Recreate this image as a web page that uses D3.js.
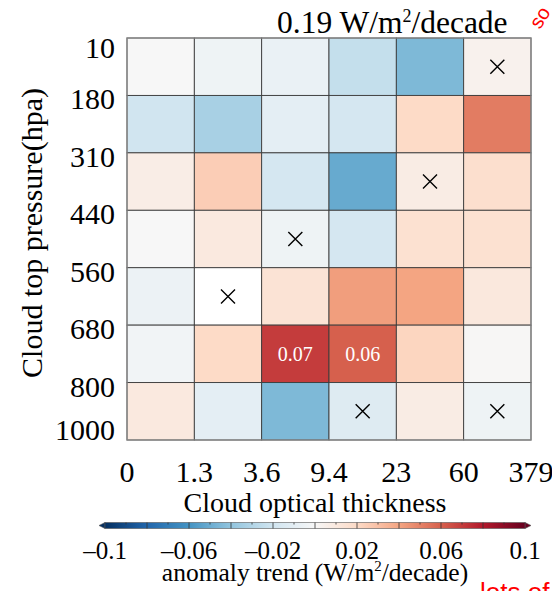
<!DOCTYPE html>
<html>
<head>
<meta charset="utf-8">
<script src="https://cdn.jsdelivr.net/npm/d3@7"></script>
<style>
  body { margin: 0; background: #fff; }
  text { font-family: "Liberation Serif", "Times New Roman", serif; fill: #000; }
</style>
</head>
<body>
<script>
// cloud optical thickness bin edges (x) and cloud top pressure bin edges (y)
var opticalEdges = ["0", "1.3", "3.6", "9.4", "23", "60", "379"];
var pressureEdges = ["10", "180", "310", "440", "560", "680", "800", "1000"];

// trend per cell, rows from top (10-180 hPa) to bottom (800-1000 hPa); null = no data
var trendRows = [
  [0.000, -0.005, -0.007, -0.024, -0.045, 0.004],
  [-0.020, -0.033, -0.010, -0.018, 0.020, 0.052],
  [0.007, 0.025, -0.018, -0.051, 0.008, 0.017],
  [0.000, 0.010, -0.005, -0.018, 0.016, 0.016],
  [-0.006, null, 0.014, 0.042, 0.040, 0.011],
  [-0.003, 0.020, 0.070, 0.060, 0.022, 0.001],
  [0.010, -0.010, -0.045, -0.013, 0.008, -0.005]
];

// cells marked with a cross [row, col]
var crossCells = [[0, 5], [2, 4], [3, 2], [4, 1], [6, 3], [6, 5]];
// cells with the value written in them [row, col]
var labelCells = [[5, 2], [5, 3]];

var colorbarTicks = [-0.1, -0.06, -0.02, 0.02, 0.06, 0.1];

var width = 552, height = 591;

var svg = d3.select("body")
  .append("svg")
  .attr("width", width)
  .attr("height", height);

var x = d3.scaleLinear().domain([0, 6]).range([127, 531]);
var y = d3.scaleLinear().domain([0, 7]).range([38, 440]);

// piecewise linear RdBu (blue negative, red positive)
var rdbu = d3.schemeRdBu[11].slice().reverse();
var colorScale = d3.scaleLinear()
  .domain(d3.range(11).map(function(i){ return -0.1 + i * 0.02; }))
  .range(rdbu)
  .clamp(true);

var color = function(v){
  if (v === null) return "#ffffff";
  return colorScale(v);
};

// cells
var cells = [];
trendRows.forEach(function(row, i){
  row.forEach(function(v, j){
    cells.push({row: i, col: j, value: v});
  });
});

svg.selectAll(".cell")
  .data(cells)
  .enter()
  .append("rect")
  .attr("class", "cell")
  .attr("x", function(d){ return x(d.col); })
  .attr("y", function(d){ return y(d.row); })
  .attr("width", x(1) - x(0))
  .attr("height", y(1) - y(0))
  .attr("fill", function(d){ return color(d.value); })
  .attr("stroke", "#3c3c3c")
  .attr("stroke-width", 0.9);

svg.append("rect")
  .attr("x", x(0)).attr("y", y(0))
  .attr("width", x(6) - x(0)).attr("height", y(7) - y(0))
  .attr("fill", "none")
  .attr("stroke", "#8a8a8a")
  .attr("stroke-width", 1.2);

// crosses
var s = 7;
crossCells.forEach(function(c){
  var cx = (x(c[1]) + x(c[1] + 1)) / 2,
      cy = (y(c[0]) + y(c[0] + 1)) / 2;
  svg.append("path")
    .attr("d", "M" + (cx - s) + "," + (cy - s) + "L" + (cx + s) + "," + (cy + s) +
               "M" + (cx - s) + "," + (cy + s) + "L" + (cx + s) + "," + (cy - s))
    .attr("stroke", "#000")
    .attr("stroke-width", 1.4);
});

// values in cells
labelCells.forEach(function(c){
  svg.append("text")
    .attr("x", (x(c[1]) + x(c[1] + 1)) / 2)
    .attr("y", (y(c[0]) + y(c[0] + 1)) / 2)
    .attr("dy", "0.35em")
    .attr("text-anchor", "middle")
    .style("font-size", "20px")
    .style("fill", "#fff")
    .text(d3.format(".2f")(trendRows[c[0]][c[1]]));
});

// x tick labels
svg.selectAll(".xlab")
  .data(opticalEdges)
  .enter()
  .append("text")
  .attr("class", "xlab")
  .attr("x", function(d, i){ return x(i); })
  .attr("y", 482)
  .attr("text-anchor", "middle")
  .style("font-size", "30px")
  .text(function(d){ return d; });

// y tick labels (first hangs below, last sits on the bottom)
svg.selectAll(".ylab")
  .data(pressureEdges)
  .enter()
  .append("text")
  .attr("class", "ylab")
  .attr("x", 115)
  .attr("y", function(d, i){
    if (i === 0) return y(i) + 20;
    if (i === pressureEdges.length - 1) return y(i) - 0.5;
    return y(i) + 14;
  })
  .attr("text-anchor", "end")
  .style("font-size", "30px")
  .text(function(d){ return d; });

// axis titles
svg.append("text")
  .attr("transform", "translate(42,233) rotate(-90)")
  .attr("text-anchor", "middle")
  .style("font-size", "30px")
  .text("Cloud top pressure(hpa)");

svg.append("text")
  .attr("x", 315)
  .attr("y", 512)
  .attr("text-anchor", "middle")
  .style("font-size", "28px")
  .text("Cloud optical thickness");

// title
var title = svg.append("text")
  .attr("x", 277)
  .attr("y", 33)
  .style("font-size", "31.5px");
title.append("tspan").text("0.19 W/m");
title.append("tspan").attr("dy", -11).style("font-size", "18px").text("2");
title.append("tspan").attr("dy", 11).text("/decade");

// colorbar
var cb = d3.scaleLinear().domain([-0.1, 0.1]).range([105, 525]);
var cbTop = 522.5, cbH = 6;

var grad = svg.append("defs").append("linearGradient")
  .attr("id", "cbgrad")
  .attr("x1", "0%").attr("x2", "100%");
d3.range(0, 1.0001, 0.05).forEach(function(t){
  grad.append("stop")
    .attr("offset", (t * 100) + "%")
    .attr("stop-color", color(-0.1 + 0.2 * t));
});

svg.append("path")
  .attr("d", "M" + cb(-0.1) + "," + cbTop + "L" + (cb(-0.1) - 6) + "," + (cbTop + cbH / 2) +
             "L" + cb(-0.1) + "," + (cbTop + cbH) + "Z")
  .attr("fill", color(-0.1))
  .attr("stroke", "#555").attr("stroke-width", 0.6);
svg.append("path")
  .attr("d", "M" + cb(0.1) + "," + cbTop + "L" + (cb(0.1) + 6) + "," + (cbTop + cbH / 2) +
             "L" + cb(0.1) + "," + (cbTop + cbH) + "Z")
  .attr("fill", color(0.1))
  .attr("stroke", "#555").attr("stroke-width", 0.6);

svg.append("rect")
  .attr("x", cb(-0.1)).attr("y", cbTop)
  .attr("width", cb(0.1) - cb(-0.1)).attr("height", cbH)
  .attr("fill", "url(#cbgrad)")
  .attr("stroke", "#555").attr("stroke-width", 0.6);

// segment lines and minor ticks
d3.range(-8, 9, 2).forEach(function(k){
  svg.append("line")
    .attr("x1", cb(k / 100)).attr("x2", cb(k / 100))
    .attr("y1", cbTop).attr("y2", cbTop + cbH)
    .attr("stroke", "#333").attr("stroke-width", 0.8);
});
d3.range(-9, 10, 2).forEach(function(k){
  svg.append("line")
    .attr("x1", cb(k / 100)).attr("x2", cb(k / 100))
    .attr("y1", cbTop).attr("y2", cbTop + 2)
    .attr("stroke", "#333").attr("stroke-width", 0.8);
});

svg.selectAll(".cblab")
  .data(colorbarTicks)
  .enter()
  .append("text")
  .attr("class", "cblab")
  .attr("x", function(d){ return cb(d); })
  .attr("y", 559)
  .attr("text-anchor", "middle")
  .style("font-size", "25px")
  .text(function(d){ return d < 0 ? "\u2013" + d3.format("")(-d) : d3.format("")(d); });

var cbTitle = svg.append("text")
  .attr("x", 315)
  .attr("y", 581)
  .attr("text-anchor", "middle")
  .style("font-size", "25.5px");
cbTitle.append("tspan").text("anomaly trend (W/m");
cbTitle.append("tspan").attr("dy", -10).style("font-size", "15px").text("2");
cbTitle.append("tspan").attr("dy", 10).text("/decade)");

// red notes on the slide
svg.append("text")
  .attr("transform", "translate(540,30) rotate(-58)")
  .style("font-family", "'Liberation Sans', Arial, sans-serif")
  .style("font-size", "20px")
  .style("fill", "#ff0000")
  .text("so");

svg.append("text")
  .attr("x", 480)
  .attr("y", 601)
  .style("font-family", "'Liberation Sans', Arial, sans-serif")
  .style("font-size", "26px")
  .style("fill", "#ff0000")
  .text("lots of");
</script>
</body>
</html>
